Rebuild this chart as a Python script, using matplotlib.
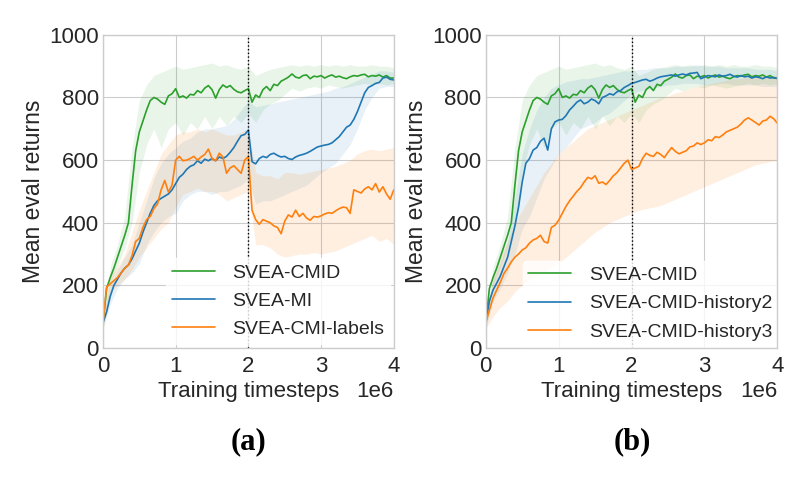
import numpy as np
import matplotlib
matplotlib.use("Agg")
import matplotlib.pyplot as plt

# x grids (timesteps, in units of 1e6)
steps_mean = np.arange(81) * 0.05
steps_band = np.arange(41) * 0.1

# SVEA-CMID (same curve in both panels)
cmid_mean = [80, 190, 225, 255, 290, 325, 360, 400, 520, 630,
             690, 725, 760, 790, 800, 795, 785, 778, 805, 812,
             828, 800, 805, 798, 810, 808, 822, 815, 830, 838,
             825, 798, 825, 840, 832, 838, 826, 818, 815, 822,
             828, 785, 808, 800, 825, 835, 822, 842, 838, 852,
             858, 865, 875, 865, 862, 870, 872, 860, 868, 866,
             870, 862, 868, 872, 865, 868, 863, 860, 866, 870,
             868, 872, 874, 866, 870, 868, 872, 865, 870, 862, 862]
cmid_lo = [60, 200, 260, 320, 400, 560, 650, 700, 640, 700, 720, 680, 720, 700,
           740, 700, 740, 710, 740, 720, 750, 720, 760, 780, 790, 810, 830, 820,
           830, 835, 830, 840, 835, 830, 835, 840, 845, 840, 845, 840, 845]
cmid_hi = [100, 260, 330, 420, 640, 790, 840, 870, 880, 890, 900, 890, 895, 900,
           905, 910, 900, 905, 895, 890, 900, 870, 880, 890, 895, 900, 905, 900,
           905, 900, 905, 900, 905, 900, 905, 900, 900, 905, 900, 900, 895]

# SVEA-MI (panel a)
mi_mean = [80, 115, 165, 200, 220, 240, 255, 265, 285, 310,
           335, 370, 400, 430, 455, 470, 478, 485, 492, 505,
           525, 545, 555, 570, 580, 585, 598, 590, 603, 598,
           605, 598, 610, 605, 612, 625, 640, 660, 678, 682,
           696, 595, 588, 605, 612, 608, 618, 622, 615, 610,
           612, 605, 602, 610, 615, 618, 622, 628, 635, 642,
           645, 648, 650, 655, 665, 675, 690, 705, 712, 730,
           755, 785, 815, 832, 838, 845, 848, 862, 865, 858, 856]
mi_lo = [60, 140, 190, 220, 240, 270, 330, 370, 400, 420, 430, 470, 490, 500,
         500, 490, 500, 500, 510, 520, 540, 460, 470, 470, 480, 490, 500, 510,
         520, 540, 560, 575, 590, 620, 650, 700, 760, 800, 830, 835, 835]
mi_hi = [100, 200, 250, 290, 330, 400, 470, 540, 590, 620, 640, 660, 670, 690,
         700, 700, 705, 710, 730, 760, 790, 770, 775, 780, 785, 790, 795, 800,
         805, 810, 815, 820, 830, 835, 845, 855, 865, 875, 885, 885, 880]

# SVEA-CMI-labels (panel a)
lab_mean = [80, 195, 205, 215, 225, 240, 255, 265, 295, 340,
            350, 385, 410, 420, 445, 460, 505, 535, 498, 520,
            600, 612, 598, 600, 605, 612, 600, 610, 618, 635,
            605, 598, 622, 610, 558, 575, 582, 570, 558, 600,
            612, 440, 410, 395, 410, 405, 400, 390, 385, 365,
            405, 425, 418, 440, 420, 430, 415, 408, 420, 418,
            422, 428, 432, 430, 438, 445, 450, 448, 430, 505,
            500, 495, 508, 515, 505, 525, 498, 515, 492, 475, 505]
lab_lo = [60, 180, 200, 220, 250, 290, 320, 350, 380, 400, 450, 490, 500, 510,
          500, 500, 490, 470, 480, 490, 500, 330, 330, 320, 300, 290, 295, 300,
          300, 305, 300, 305, 310, 320, 330, 340, 350, 360, 340, 350, 330]
lab_hi = [100, 230, 260, 300, 370, 440, 500, 560, 620, 650, 680, 690, 690, 700,
          690, 700, 690, 680, 680, 690, 700, 560, 550, 550, 540, 560, 560, 555,
          560, 565, 570, 575, 580, 590, 600, 620, 630, 635, 630, 635, 640]

# SVEA-CMID-history2 (panel b)
h2_mean = [80, 150, 185, 207, 230, 260, 290, 340, 390, 450,
           530, 590, 605, 632, 640, 660, 670, 632, 700, 722,
           728, 730, 742, 760, 772, 785, 792, 780, 785, 795,
           790, 780, 800, 805, 812, 808, 818, 822, 832, 838,
           845, 848, 852, 856, 858, 852, 856, 862, 866, 868,
           870, 872, 868, 872, 875, 872, 877, 878, 880, 860,
           865, 870, 868, 866, 872, 868, 870, 874, 868, 865,
           870, 866, 868, 862, 866, 864, 860, 866, 862, 864, 860]
h2_lo = [60, 150, 190, 240, 300, 380, 420, 480, 540, 580, 620, 640, 670, 700,
         710, 720, 740, 750, 770, 790, 810, 820, 825, 830, 835, 840, 840, 845,
         845, 845, 840, 840, 845, 845, 840, 840, 840, 840, 835, 835, 835]
h2_hi = [100, 220, 270, 340, 480, 620, 700, 760, 800, 830, 840, 850, 855, 860,
         860, 865, 870, 875, 880, 885, 885, 890, 890, 895, 895, 895, 900, 900,
         900, 905, 900, 900, 900, 895, 895, 895, 895, 890, 890, 890, 885]

# SVEA-CMID-history3 (panel b)
h3_mean = [80, 121, 160, 185, 210, 238, 255, 275, 290, 300,
           313, 320, 335, 345, 350, 360, 340, 335, 385, 392,
           408, 430, 452, 470, 485, 500, 512, 530, 545, 540,
           550, 526, 530, 522, 535, 550, 560, 575, 590, 600,
           570, 575, 580, 605, 622, 615, 612, 625, 618, 608,
           625, 640, 628, 620, 625, 630, 642, 645, 655, 650,
           655, 665, 662, 675, 672, 680, 690, 695, 700, 705,
           715, 728, 735, 728, 720, 712, 725, 728, 740, 732, 718]
h3_lo = [60, 100, 130, 150, 180, 200, 220, 230, 240, 260, 270, 290, 310, 330,
         350, 370, 385, 400, 410, 420, 430, 440, 445, 450, 455, 465, 475, 485,
         495, 505, 515, 525, 535, 545, 555, 565, 575, 585, 590, 595, 600]
h3_hi = [100, 220, 290, 340, 400, 440, 480, 520, 560, 590, 620, 640, 660, 680,
         700, 710, 720, 730, 740, 750, 760, 770, 780, 790, 800, 805, 815, 820,
         830, 835, 840, 845, 850, 855, 860, 860, 865, 870, 870, 870, 870]

GREEN = '#2ca02c'
BLUE = '#1f77b4'
ORANGE = '#ff7f0e'

plt.style.use('seaborn-v0_8-whitegrid')
plt.rcParams['font.family'] = ['Liberation Sans', 'DejaVu Sans']
plt.rcParams['text.color'] = '.15'
plt.rcParams['axes.labelcolor'] = '.15'
plt.rcParams['xtick.color'] = '.15'
plt.rcParams['ytick.color'] = '.15'

fig = plt.figure(figsize=(7.86, 4.84), dpi=100)
ax_a = fig.add_axes([0.131, 0.281, 0.370, 0.647])
ax_b = fig.add_axes([0.618, 0.281, 0.371, 0.647])


def draw_panel(ax, series, leg_anchor):
    xm = steps_mean * 1e6
    xb = steps_band * 1e6
    handles = []
    for mean, lo, hi, color, label, alpha in series:
        ax.fill_between(xb, lo, hi, color=color, alpha=alpha, lw=0)
        line, = ax.plot(xm, mean, color=color, lw=1.2, label=label)
        handles.append(line)
    ax.axvline(2e6, color='black', linestyle=':', lw=1.0)
    ax.set_xlim(0, 4e6)
    ax.set_ylim(0, 1000)
    ax.set_xticks([0, 1e6, 2e6, 3e6, 4e6])
    ax.set_yticks([0, 200, 400, 600, 800, 1000])
    ax.tick_params(axis='x', labelsize=16, pad=6)
    ax.tick_params(axis='y', labelsize=16, pad=3)
    ax.xaxis.get_offset_text().set_fontsize(16)
    ax.set_xlabel('Training timesteps', fontsize=16, labelpad=3)
    ax.set_ylabel('Mean eval returns', fontsize=16.5, labelpad=3)
    for s in ax.spines.values():
        s.set_color('.8')
        s.set_zorder(6)
    leg = ax.legend(handles=handles, loc='lower right', bbox_to_anchor=leg_anchor,
                    fontsize=14, frameon=True, framealpha=0.8, facecolor='white',
                    edgecolor='white', handlelength=2.2, handletextpad=0.9,
                    labelspacing=0.55, borderaxespad=0.2, borderpad=0.3)
    leg.set_zorder(5)
    return leg


draw_panel(ax_a, [
    (cmid_mean, cmid_lo, cmid_hi, GREEN, 'SVEA-CMID', 0.1),
    (mi_mean, mi_lo, mi_hi, BLUE, 'SVEA-MI', 0.1),
    (lab_mean, lab_lo, lab_hi, ORANGE, 'SVEA-CMI-labels', 0.12),
], (1.0, 0.0))
draw_panel(ax_b, [
    (cmid_mean, cmid_lo, cmid_hi, GREEN, 'SVEA-CMID', 0.1),
    (h2_mean, h2_lo, h2_hi, BLUE, 'SVEA-CMID-history2', 0.1),
    (h3_mean, h3_lo, h3_hi, ORANGE, 'SVEA-CMID-history3', 0.12),
], (1.015, -0.008))

fig.text(248 / 786, 1 - 442 / 484, '(a)', ha='center', va='center',
         fontsize=22, fontweight='bold', family='Liberation Serif', color='black')
fig.text(632 / 786, 1 - 442 / 484, '(b)', ha='center', va='center',
         fontsize=22, fontweight='bold', family='Liberation Serif', color='black')

fig.savefig('out.png', dpi=100)
